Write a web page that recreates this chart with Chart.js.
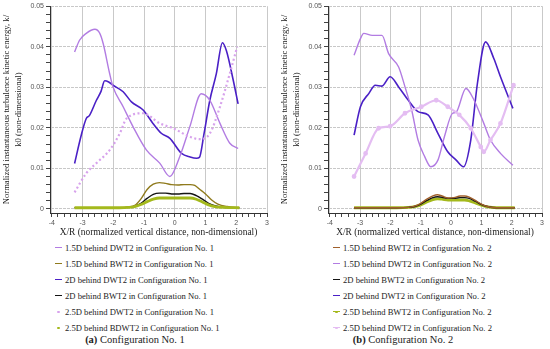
<!DOCTYPE html>
<html>
<head>
<meta charset="utf-8">
<script src="https://cdn.jsdelivr.net/npm/chart.js@4.4.1/dist/chart.umd.min.js"></script>
<style>
	html, body { margin: 0; padding: 0; background: #fff; }
	#wrap { position: relative; width: 550px; height: 349px; overflow: hidden; font-family: "Liberation Serif", "DejaVu Serif", serif; color: #222; }
	canvas { position: absolute; top: 0; }
	.legend { position: absolute; top: 240px; font-size: 8.6px; }
	.legend .row { height: 16px; line-height: 16px; display: flex; align-items: center; white-space: nowrap; }
	.legend .mk { position: relative; display: inline-block; width: 8px; height: 16px; margin-right: 2px; }
	.legend .ln { position: absolute; left: 0; top: 7px; width: 7px; height: 1.4px; }
	.legend .dt { position: absolute; left: 2px; top: 6.5px; width: 2.6px; height: 2.6px; border-radius: 50%; }
	.caption { position: absolute; top: 333px; font-size: 10.5px; line-height: 14px; text-align: center; width: 200px; }
</style>
</head>
<body>
<div id="wrap">
	<canvas id="chart-conf1" width="275" height="240" style="left:0"></canvas>
	<canvas id="chart-conf2" width="272" height="240" style="left:278px"></canvas>
	<div id="legend-conf1" class="legend" style="left:55px"></div>
	<div id="legend-conf2" class="legend" style="left:333px"></div>
	<div class="caption" style="left:35px"><b>(a)</b> Configuration No. 1</div>
	<div class="caption" style="left:303px"><b>(b)</b> Configuration No. 2</div>
</div>
<script>
// Configuration No. 1 -- X/R positions and k/k0 values
const c1Dwt15X = [-3.26, -3.1, -2.88, -2.6, -2.44, -2.33, -2.12, -2.01, -1.68, -1.36, -0.92, -0.49, -0.16, 0.16, 0.49, 0.86, 1.14, 1.47, 1.79, 2.06];
const c1Dwt15K = [0.0387, 0.0416, 0.0433, 0.0443, 0.0433, 0.0408, 0.0334, 0.0301, 0.0252, 0.0203, 0.0145, 0.0113, 0.008, 0.0129, 0.0203, 0.0284, 0.0268, 0.0211, 0.0162, 0.0149];

const c1Bwt15X = [-3.26, -2.5, -1.8, -1.5, -1.3, -1.1, -0.9, -0.7, -0.5, -0.3, -0.1, 0.1, 0.3, 0.5, 0.65, 0.8, 1.0, 1.2, 1.4, 1.7, 2.1];
const c1Bwt15K = [0.0003, 0.0003, 0.0003, 0.0005, 0.0009, 0.0025, 0.0048, 0.0061, 0.0065, 0.0063, 0.006, 0.0059, 0.006, 0.006, 0.0058, 0.0049, 0.0037, 0.0022, 0.0012, 0.0006, 0.0003];

const c1Dwt2X = [-3.26, -3.05, -2.88, -2.78, -2.55, -2.4, -2.28, -2.15, -2.01, -1.68, -1.41, -1.03, -0.71, -0.43, -0.16, 0.22, 0.5, 0.71, 0.8, 0.95, 1.14, 1.35, 1.55, 1.68, 1.9, 2.06];
const c1Dwt2K = [0.0112, 0.018, 0.0223, 0.023, 0.0268, 0.029, 0.0316, 0.0313, 0.0305, 0.0289, 0.0264, 0.0244, 0.0211, 0.0186, 0.0174, 0.0137, 0.0128, 0.0125, 0.0127, 0.0185, 0.0268, 0.0333, 0.041, 0.039, 0.0318, 0.0259];

const c1Bwt2X = [-3.26, -2.5, -1.8, -1.5, -1.3, -1.1, -0.9, -0.7, -0.5, -0.3, -0.1, 0.1, 0.3, 0.5, 0.7, 0.9, 1.1, 1.3, 1.6, 2.1];
const c1Bwt2K = [0.0003, 0.0003, 0.0003, 0.0004, 0.0007, 0.0014, 0.0026, 0.0036, 0.0039, 0.0039, 0.0037, 0.0037, 0.0038, 0.0038, 0.0033, 0.0024, 0.0014, 0.0008, 0.0004, 0.0003];

const c1Dwt25X = [-3.26, -2.88, -2.55, -2.12, -1.79, -1.57, -1.03, -0.49, -0.05, 0.49, 0.81, 1.14, 1.47, 1.79, 2.03];
const c1Dwt25K = [0.0041, 0.0088, 0.0113, 0.0145, 0.0186, 0.0223, 0.0236, 0.0211, 0.0199, 0.0178, 0.0172, 0.0186, 0.0252, 0.0334, 0.04];

const c1Bdwt25X = [-3.26, -2.5, -1.8, -1.5, -1.3, -1.1, -0.9, -0.7, -0.5, -0.3, -0.1, 0.1, 0.3, 0.5, 0.7, 0.9, 1.1, 1.3, 1.6, 2.1];
const c1Bdwt25K = [0.0003, 0.0003, 0.0003, 0.0004, 0.0006, 0.0011, 0.0018, 0.0024, 0.0027, 0.0027, 0.0027, 0.0027, 0.0027, 0.0027, 0.0024, 0.0017, 0.001, 0.0006, 0.0004, 0.0003];

// Configuration No. 2
const c2BwtX = [-3.2, -2.5, -1.8, -1.4, -1.2, -1.0, -0.8, -0.6, -0.45, -0.3, -0.1, 0.1, 0.3, 0.45, 0.6, 0.8, 1.0, 1.2, 1.5, 2.1];
const c2Bwt15K = [0.0003, 0.0003, 0.0003, 0.0004, 0.0007, 0.0014, 0.0024, 0.0032, 0.0035, 0.0032, 0.0027, 0.0028, 0.0032, 0.0032, 0.0029, 0.0021, 0.0012, 0.0006, 0.0003, 0.0003];
const c2Bwt2K = [0.0003, 0.0003, 0.0003, 0.0004, 0.0006, 0.0012, 0.0021, 0.0028, 0.003, 0.0029, 0.0026, 0.0026, 0.0028, 0.0028, 0.0026, 0.0019, 0.0011, 0.0006, 0.0003, 0.0003];
const c2Bwt25K = [0.0003, 0.0003, 0.0003, 0.0004, 0.0006, 0.001, 0.0017, 0.0023, 0.0025, 0.0024, 0.0022, 0.0022, 0.0022, 0.0022, 0.002, 0.0015, 0.0009, 0.0005, 0.0003, 0.0003];

const c2Dwt15X = [-3.2, -2.99, -2.88, -2.6, -2.28, -2.06, -1.73, -1.52, -1.3, -1.09, -0.87, -0.67, -0.43, -0.22, 0.05, 0.16, 0.49, 0.76, 1.08, 1.3, 1.63, 2.04];
const c2Dwt15K = [0.0379, 0.042, 0.0433, 0.0428, 0.0428, 0.0383, 0.035, 0.0301, 0.0244, 0.017, 0.0129, 0.0104, 0.0121, 0.0178, 0.0236, 0.0238, 0.0297, 0.0268, 0.0211, 0.017, 0.0137, 0.0108];

const c2Dwt2X = [-3.2, -2.99, -2.71, -2.5, -2.28, -2.01, -1.73, -1.41, -1.09, -0.76, -0.43, -0.11, 0.16, 0.41, 0.65, 0.87, 1.14, 1.41, 1.63, 2.04];
const c2Dwt2K = [0.0182, 0.0252, 0.0285, 0.0305, 0.0303, 0.0326, 0.0301, 0.0268, 0.024, 0.0232, 0.0186, 0.0141, 0.0121, 0.0104, 0.017, 0.031, 0.0412, 0.0371, 0.0326, 0.0248];

const c2Dwt25X = [-3.2, -2.82, -2.39, -2.01, -1.52, -0.98, -0.49, -0.11, 0.27, 0.65, 0.98, 1.08, 1.3, 1.63, 2.06];
const c2Dwt25K = [0.008, 0.0137, 0.0199, 0.0204, 0.0236, 0.0252, 0.0268, 0.0252, 0.0232, 0.0199, 0.0153, 0.0141, 0.017, 0.0211, 0.0305];

// axis ticks
const xMajorTicks = [-4, -3, -2, -1, 0, 1, 2, 3];
const yMajorTicks = [0, 0.01, 0.02, 0.03, 0.04, 0.05];
const xMinorStep = 0.2;
const yMinorStep = 0.002;

const COLORS = {
	lilac: '#b27ce2',
	olive: '#8f7a1c',
	brown: '#a0602c',
	indigo: '#4a20c6',
	black: '#141414',
	pink: '#d7a2ec',
	pinkPale: '#e4bdf2',
	lime: '#a4b91c'
};

function pts(xs, ks) {
	return xs.map((x, i) => ({ x: x, y: ks[i] }));
}

function series(label, xs, ks, color, extra) {
	return Object.assign({
		label: label,
		data: pts(xs, ks),
		borderColor: color,
		backgroundColor: color,
		borderWidth: 1.4,
		pointRadius: 0,
		cubicInterpolationMode: 'monotone',
		fill: false
	}, extra || {});
}

function withMinor(majors, step) {
	const out = [];
	for (let i = 0; i < majors.length - 1; i++) {
		const a = majors[i], b = majors[i + 1];
		const n = Math.round((b - a) / step);
		for (let j = 0; j < n; j++) out.push(+(a + j * step).toFixed(4));
	}
	out.push(majors[majors.length - 1]);
	return out;
}

function isMajor(v, majors) {
	return majors.some(m => Math.abs(m - v) < 1e-7);
}

function makeOptions() {
	const tickFont = { family: '"Liberation Sans", Arial, sans-serif', size: 7 };
	return {
		responsive: false,
		animation: false,
		devicePixelRatio: 1,
		layout: { padding: { top: 6, right: 8, left: 0, bottom: 0 } },
		plugins: { legend: { display: false }, tooltip: { enabled: false } },
		scales: {
			x: {
				type: 'linear',
				min: -4.06,
				max: 3,
				afterBuildTicks: s => { s.ticks = withMinor(xMajorTicks, xMinorStep).map(v => ({ value: v })); },
				afterFit: s => { s.height = 27; },
				ticks: {
					autoSkip: false,
					maxRotation: 0,
					padding: 2,
					color: '#555',
					font: tickFont,
					callback: v => isMajor(v, xMajorTicks) ? String(Math.round(v)) : ''
				},
				grid: {
					tickLength: 4,
					tickColor: '#444',
					lineWidth: 1,
					color: c => (c.tick && isMajor(c.tick.value, xMajorTicks)) ? '#c9c9c9' : 'rgba(0,0,0,0)'
				},
				border: { color: '#333', width: 1 },
				title: {
					display: true,
					text: 'X/R (normalized vertical distance, non-dimensional)',
					color: '#222',
					font: { family: '"Liberation Serif", serif', size: 9.4 },
					padding: { top: 0, bottom: 2 }
				}
			},
			y: {
				min: -0.001,
				max: 0.05,
				afterBuildTicks: s => { s.ticks = withMinor(yMajorTicks, yMinorStep).map(v => ({ value: v })); },
				afterFit: s => { s.width = 50; },
				ticks: {
					autoSkip: false,
					padding: 2,
					color: '#555',
					font: tickFont,
					callback: v => isMajor(v, yMajorTicks) ? (v === 0 ? '0' : v.toFixed(2)) : ''
				},
				grid: {
					tickLength: 4,
					tickColor: '#444',
					lineWidth: 1,
					color: c => (c.tick && isMajor(c.tick.value, yMajorTicks)) ? '#c8c8c8' : 'rgba(0,0,0,0)'
				},
				border: { color: '#333', width: 1, dash: [3, 1] },
				title: {
					display: true,
					text: ['Normalized instantaneous turbulence kinetic energy, k/', 'k0 (non-dimensional)'],
					color: '#222',
					font: { family: '"Liberation Serif", serif', size: 8.6, lineHeight: 1.45 },
					padding: { top: 0, bottom: 2 }
				}
			}
		}
	};
}

function configOneChart() {
	const el = document.getElementById('chart-conf1');
	const datasets = [
		series('2.5D behind BDWT2 in Configuration No. 1', c1Bdwt25X, c1Bdwt25K, COLORS.lime, { borderWidth: 2.8 }),
		series('1.5D behind BWT2 in Configuration No. 1', c1Bwt15X, c1Bwt15K, COLORS.olive),
		series('2D behind BWT2 in Configuration No. 1', c1Bwt2X, c1Bwt2K, COLORS.black),
		series('2.5D behind DWT2 in Configuration No. 1', c1Dwt25X, c1Dwt25K, COLORS.pink, { borderWidth: 2.2, borderDash: [2, 2.5] }),
		series('1.5D behind DWT2 in Configuration No. 1', c1Dwt15X, c1Dwt15K, COLORS.lilac),
		series('2D behind DWT2 in Configuration No. 1', c1Dwt2X, c1Dwt2K, COLORS.indigo, { borderWidth: 1.6 })
	];
	new Chart(el, { type: 'line', data: { datasets: datasets }, options: makeOptions() });
}

function configTwoChart() {
	const el = document.getElementById('chart-conf2');
	const datasets = [
		series('2.5D behind DWT2 in Configuration No. 2', c2Dwt25X, c2Dwt25K, COLORS.pinkPale, { borderWidth: 2.2, pointRadius: 1.3 }),
		series('1.5D behind BWT2 in Configuration No. 2', c2BwtX, c2Bwt15K, COLORS.brown),
		series('2D behind BWT2 in Configuration No. 2', c2BwtX, c2Bwt2K, COLORS.black),
		series('2.5D behind BWT2 in Configuration No. 2', c2BwtX, c2Bwt25K, COLORS.lime, { borderWidth: 2.8 }),
		series('1.5D behind DWT2 in Configuration No. 2', c2Dwt15X, c2Dwt15K, COLORS.lilac),
		series('2D behind DWT2 in Configuration No. 2', c2Dwt2X, c2Dwt2K, COLORS.indigo, { borderWidth: 1.6 })
	];
	new Chart(el, { type: 'line', data: { datasets: datasets }, options: makeOptions() });
}

// legend rows, in the order of the original figure: [label, colour, marker kind]
const legendConf1 = [
	['1.5D behind DWT2 in Configuration No. 1', COLORS.lilac, 'line'],
	['1.5D behind BWT2 in Configuration No. 1', COLORS.olive, 'line'],
	['2D behind DWT2 in Configuration No. 1', COLORS.indigo, 'line'],
	['2D behind BWT2 in Configuration No. 1', COLORS.black, 'line'],
	['2.5D behind DWT2 in Configuration No. 1', COLORS.pink, 'dot'],
	['2.5D behind BDWT2 in Configuration No. 1', COLORS.lime, 'dot']
];
const legendConf2 = [
	['1.5D behind BWT2 in Configuration No. 2', COLORS.brown, 'line'],
	['1.5D behind DWT2 in Configuration No. 2', COLORS.lilac, 'line'],
	['2D behind BWT2 in Configuration No. 2', COLORS.black, 'line'],
	['2D behind DWT2 in Configuration No. 2', COLORS.indigo, 'line'],
	['2.5D behind BWT2 in Configuration No. 2', COLORS.lime, 'both'],
	['2.5D behind DWT2 in Configuration No. 2', COLORS.pinkPale, 'both']
];

function renderLegend(id, items) {
	const box = document.getElementById(id);
	box.innerHTML = items.map(([label, color, kind]) => {
		const ln = kind !== 'dot' ? `<span class="ln" style="background:${color}"></span>` : '';
		const dt = kind !== 'line' ? `<span class="dt" style="background:${color}"></span>` : '';
		return `<div class="row"><span class="mk">${ln}${dt}</span><span>${label}</span></div>`;
	}).join('');
}

configOneChart();
configTwoChart();
renderLegend('legend-conf1', legendConf1);
renderLegend('legend-conf2', legendConf2);
</script>
</body>
</html>
